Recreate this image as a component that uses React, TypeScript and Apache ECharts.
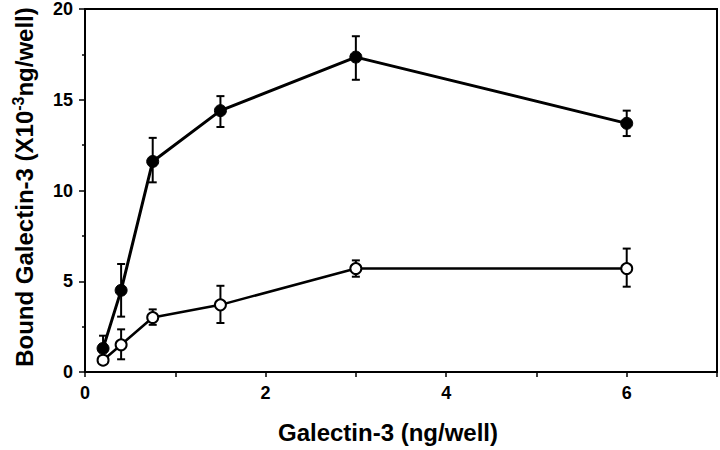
import React, { useEffect, useRef } from "react";
import * as echarts from "echarts";

const xValues = [0.2, 0.4, 0.75, 1.5, 3, 6];
const closedMean = [1.3, 4.5, 11.6, 14.4, 17.35, 13.7];
const closedLow = [0.7, 3.05, 10.45, 13.5, 16.1, 13.0];
const closedHigh = [2.0, 5.95, 12.9, 15.2, 18.5, 14.4];
const openMean = [0.65, 1.5, 3.0, 3.7, 5.7, 5.7];
const openLow = [0.5, 0.7, 2.6, 2.7, 5.25, 4.7];
const openHigh = [0.8, 2.35, 3.45, 4.75, 6.15, 6.8];

const xTitle = "Galectin-3 (ng/well)";
const FONT = "Liberation Sans";

function errorRender(params: any, api: any) {
  const x = api.value(0);
  const lo = api.value(1);
  const hi = api.value(2);
  const top = api.coord([x, hi]);
  const bot = api.coord([x, lo]);
  const w = 4;
  const st = { stroke: "#000", lineWidth: 2 };
  return {
    type: "group",
    children: [
      { type: "line", shape: { x1: top[0], y1: top[1], x2: bot[0], y2: bot[1] }, style: st },
      { type: "line", shape: { x1: top[0] - w, y1: top[1], x2: top[0] + w, y2: top[1] }, style: st },
      { type: "line", shape: { x1: bot[0] - w, y1: bot[1], x2: bot[0] + w, y2: bot[1] }, style: st },
    ],
  };
}

export default function App() {
  const ref = useRef<HTMLDivElement>(null);
  useEffect(() => {
    if (!ref.current) return;
    const chart = echarts.init(ref.current, null, { renderer: "svg" });
    const closedData = xValues.map((x, i) => [x, closedMean[i]]);
    const openData = xValues.map((x, i) => [x, openMean[i]]);
    const closedErr = xValues.map((x, i) => [x, closedLow[i], closedHigh[i]]);
    const openErr = xValues.map((x, i) => [x, openLow[i], openHigh[i]]);
    chart.setOption({
      animation: false,
      backgroundColor: "#fff",
      textStyle: { fontFamily: FONT },
      grid: {
        left: 85,
        right: 3,
        top: 4,
        bottom: 78,
        show: true,
        borderColor: "#000",
        borderWidth: 2,
      },
      xAxis: {
        type: "value",
        min: 0,
        max: 7,
        interval: 1,
        axisLine: { show: true, onZero: false, lineStyle: { color: "#000", width: 2 } },
        axisTick: { show: true, length: 5, lineStyle: { color: "#000", width: 1.5 } },
        splitLine: { show: false },
        axisLabel: {
          color: "#000",
          fontFamily: FONT,
          fontWeight: "bold",
          fontSize: 18,
          margin: 12,
          formatter: (v: number) => (v % 2 === 0 && v < 7 ? String(v) : ""),
        },
      },
      yAxis: {
        type: "value",
        min: 0,
        max: 20,
        interval: 5,
        axisLine: { show: true, lineStyle: { color: "#000", width: 2 } },
        axisTick: { show: true, length: 6, lineStyle: { color: "#000", width: 1.5 } },
        minorTick: { show: true, splitNumber: 2, length: 3, lineStyle: { color: "#000", width: 1.5 } },
        splitLine: { show: false },
        axisLabel: {
          color: "#000",
          fontFamily: FONT,
          fontWeight: "bold",
          fontSize: 18,
          margin: 12,
        },
      },
      graphic: [
        {
          type: "text",
          x: 388,
          y: 432,
          style: {
            text: xTitle,
            fill: "#000",
            fontFamily: FONT,
            fontWeight: "bold",
            fontSize: 24,
            align: "center",
            verticalAlign: "middle",
          },
        },
        {
          type: "text",
          x: 24,
          y: 187,
          rotation: Math.PI / 2,
          style: {
            text: "{a|Bound Galectin-3 (X10}{s|-3}{a|ng/well)}",
            align: "center",
            verticalAlign: "middle",
            fontFamily: FONT,
            fontWeight: "bold",
            fontSize: 24,
            fill: "#000",
            rich: {
              a: { fontFamily: FONT, fontWeight: "bold", fontSize: 24, fill: "#000", lineHeight: 28 },
              s: {
                fontFamily: FONT,
                fontWeight: "bold",
                fontSize: 16,
                fill: "#000",
                lineHeight: 28,
                padding: [0, 0, 11, 0],
              },
            },
          },
        },
      ],
      series: [
        {
          type: "custom",
          renderItem: errorRender,
          data: closedErr,
          encode: { x: 0, y: [1, 2] },
          z: 1,
          silent: true,
        },
        {
          type: "custom",
          renderItem: errorRender,
          data: openErr,
          encode: { x: 0, y: [1, 2] },
          z: 1,
          silent: true,
        },
        {
          type: "line",
          data: closedData,
          symbol: "circle",
          symbolSize: 12,
          lineStyle: { color: "#000", width: 3 },
          itemStyle: { color: "#000", borderColor: "#000", borderWidth: 1 },
          z: 3,
        },
        {
          type: "line",
          data: openData,
          symbol: "circle",
          symbolSize: 11,
          lineStyle: { color: "#000", width: 2.5 },
          itemStyle: { color: "#fff", borderColor: "#000", borderWidth: 2 },
          z: 4,
        },
      ],
    });
    return () => chart.dispose();
  }, []);
  return (
    <div
      ref={ref}
      style={{ position: "fixed", left: 0, top: 0, width: 720, height: 450, background: "#fff" }}
    />
  );
}
